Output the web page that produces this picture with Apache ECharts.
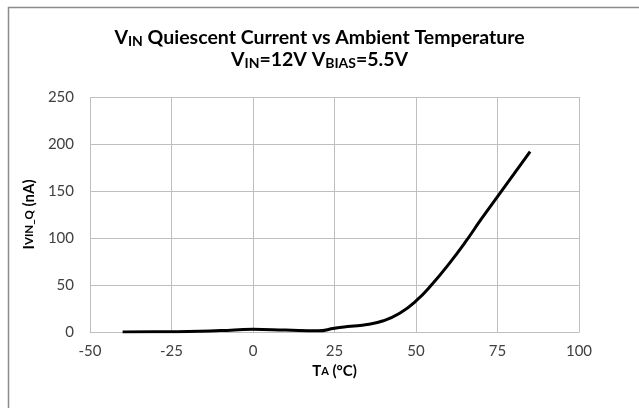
<!DOCTYPE html>
<html><head><meta charset="utf-8">
<script src="https://cdn.jsdelivr.net/npm/echarts@6/dist/echarts.min.js"></script>
<style>html,body{margin:0;padding:0;background:#fff}#c{width:639px;height:408px}</style>
</head><body><div id="c"></div>
<script>
var temps = [-40,-30,-20,-10,0,10,20,25,30,35,40,45,50,55,60,65,70,75,80,85];
var current = [0,0.2,0.5,1.5,2.8,2,1.2,4,6,8,12,20,33,51,72,95,120,144,168,192];
var xTicks = {min:-50, max:100, interval:25};
var yTicks = {min:0, max:250, interval:50};

var chart = echarts.init(document.getElementById('c'));
var F = 'Lato, "Open Sans", sans-serif';
chart.setOption({
  animation:false,
  graphic:[{type:'rect', shape:{x:8.5,y:7.5,width:700,height:500}, style:{fill:'none', stroke:'#8c8c8c', lineWidth:1.5}, z:-1}],
  title:{
    text:'V{s|IN} Quiescent Current vs Ambient Temperature\nV{s|IN}=12V V{s|BIAS}=5.5V',
    left:'center', top:22,
    textStyle:{fontFamily:F, fontSize:19.5, fontWeight:'bold', color:'#000', lineHeight:22,
      rich:{s:{fontFamily:F, fontSize:14, fontWeight:'bold', color:'#000', verticalAlign:'bottom', padding:[0,0,1,0]}}}
  },
  grid:{left:90, right:60, top:97, bottom:76},
  xAxis:{type:'value', min:xTicks.min, max:xTicks.max, interval:xTicks.interval,
    name:'T{s|A} (°C)', nameLocation:'middle', nameGap:32,
    nameTextStyle:{fontFamily:F, fontSize:15, fontWeight:'bold', color:'#000',
      rich:{s:{fontFamily:F, fontSize:11, fontWeight:'bold', color:'#000'}}},
    axisLine:{lineStyle:{color:'#bfbfbf'}}, axisTick:{show:false},
    axisLabel:{fontFamily:F, fontSize:15, color:'#404040', margin:12},
    splitLine:{lineStyle:{color:'#bfbfbf'}}},
  yAxis:{type:'value', min:yTicks.min, max:yTicks.max, interval:yTicks.interval,
    name:'I{s|VIN_Q} (nA)', nameLocation:'middle', nameGap:48, nameRotate:90,
    nameTextStyle:{fontFamily:F, fontSize:15, fontWeight:'bold', color:'#000',
      rich:{s:{fontFamily:F, fontSize:11.5, fontWeight:'bold', color:'#000'}}},
    axisLine:{show:false}, axisTick:{show:false},
    axisLabel:{fontFamily:F, fontSize:15, color:'#404040', margin:16},
    splitLine:{lineStyle:{color:'#bfbfbf'}}},
  series:[{type:'line', smooth:0.5, showSymbol:false,
    data:temps.map(function(t,i){return [t,current[i]];}),
    lineStyle:{color:'#000', width:3}}]
});
</script></body></html>
